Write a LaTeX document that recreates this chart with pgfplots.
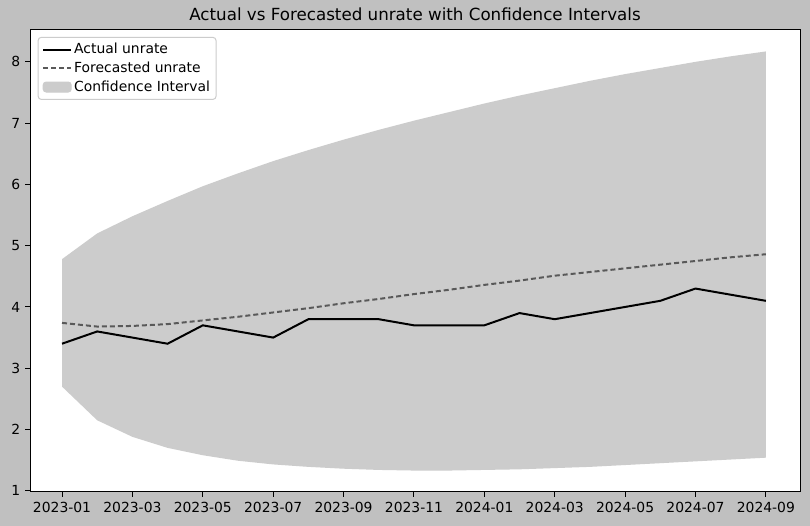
\documentclass[border=0pt]{standalone}
\usepackage{pgfplots}
\pgfplotsset{compat=1.18}
\usepackage{fontspec}
\setmainfont{DejaVu Sans}
\pgfplotstableread{
i act fc
0 3.4 3.74
1 3.6 3.68
2 3.5 3.69
3 3.4 3.72
4 3.7 3.78
5 3.6 3.84
6 3.5 3.91
7 3.8 3.98
8 3.8 4.06
9 3.8 4.13
10 3.7 4.21
11 3.7 4.28
12 3.7 4.36
13 3.9 4.43
14 3.8 4.51
15 3.9 4.57
16 4.0 4.63
17 4.1 4.69
18 4.3 4.75
19 4.2 4.81
20 4.1 4.86
}\data
\pgfplotstableread{
i v
0 4.78
1 5.20
2 5.48
3 5.73
4 5.97
5 6.18
6 6.38
7 6.56
8 6.73
9 6.89
10 7.04
11 7.18
12 7.32
13 7.45
14 7.57
15 7.69
16 7.80
17 7.90
18 8.00
19 8.09
20 8.17
20 1.54
19 1.51
18 1.48
17 1.45
16 1.42
15 1.39
14 1.37
13 1.35
12 1.34
11 1.33
10 1.33
9 1.34
8 1.36
7 1.39
6 1.43
5 1.49
4 1.58
3 1.70
2 1.88
1 2.15
0 2.70
}\band
\definecolor{figbg}{RGB}{192,192,192}
\definecolor{ci}{RGB}{204,204,204}
\begin{document}
\fontsize{13.9}{16}\selectfont
\begin{tikzpicture}
\fill[figbg] (0,0) rectangle (810pt,526pt);
\begin{axis}[at={(30pt,34pt)}, anchor=south west, scale only axis,
 width=770pt, height=462pt, xmin=-0.91, xmax=20.97, ymin=0.98, ymax=8.52,
 axis background/.style={fill=white},
 axis line style={line width=1pt},
 /pgf/number format/assume math mode=true,
 ticklabel style={font=\fontsize{13.9}{16}\selectfont},
 xtick={0,2,...,20},
 xticklabels={2023-01,2023-03,2023-05,2023-07,2023-09,2023-11,2024-01,2024-03,2024-05,2024-07,2024-09},
 ytick={1,...,8}, tick align=outside, major tick length=5pt,
 tick style={line width=1pt, black},
 xtick pos=bottom, ytick pos=left,
 title={Actual vs Forecasted unrate with Confidence Intervals},
 title style={font=\fontsize{16.7}{19}\selectfont, yshift=-2pt},
 legend style={at={(0.01,0.985)}, anchor=north west, rounded corners=3pt, draw=ci, line width=1pt, font=\fontsize{13.9}{17}\selectfont, row sep=2pt, inner sep=4pt},
 legend cell align=left,
 legend image code/.code={\draw[#1] (0pt,0pt) -- (28pt,0pt);}]
\addplot[fill=ci, draw=none, forget plot] table[x=i,y=v]{\band} -- cycle;
\addplot[black, line width=2pt] table[x=i,y=act]{\data};
\addlegendentry{Actual unrate}
\addplot[gray!70!black, line width=2pt, dash pattern=on 5pt off 3pt] table[x=i,y=fc]{\data};
\addlegendentry{Forecasted unrate}
\addlegendimage{legend image code/.code={\fill[ci] (0pt,-5pt) rectangle (28pt,5pt);}}
\addlegendentry{Confidence Interval}
\end{axis}
\end{tikzpicture}
\end{document}
